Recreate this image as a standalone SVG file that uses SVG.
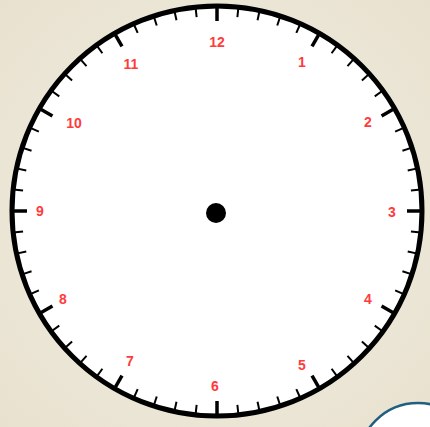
<svg xmlns="http://www.w3.org/2000/svg" xmlns:xlink="http://www.w3.org/1999/xlink" width="430" height="427" viewBox="0 0 430 427">
<defs>
<style>
.num{font-family:"Liberation Sans",Arial,sans-serif;font-weight:bold;font-size:14px;fill:#ff3b3b;text-anchor:middle;dominant-baseline:central}
.h{stroke:#000;stroke-width:3.5}
.m{stroke:#000;stroke-width:2}
</style>
<radialGradient id="bg" cx="50%" cy="50%" r="70%">
<stop offset="0" stop-color="#f3efe5"/>
<stop offset="1" stop-color="#e8e1cf"/>
</radialGradient>
<line id="ht" class="h" x1="217" y1="6" x2="217" y2="21"/>
<line id="mt" class="m" x1="217" y1="6" x2="217" y2="16"/>
</defs>
<rect width="430" height="427" fill="url(#bg)"/>
<g id="face">
<circle cx="217" cy="211" r="205" fill="#fff" stroke="#000" stroke-width="5"/>
</g>
<g id="ticks">
<use href="#ht" transform="rotate(0 217 211)"/>
<use href="#mt" transform="rotate(6 217 211)"/>
<use href="#mt" transform="rotate(12 217 211)"/>
<use href="#mt" transform="rotate(18 217 211)"/>
<use href="#mt" transform="rotate(24 217 211)"/>
<use href="#ht" transform="rotate(30 217 211)"/>
<use href="#mt" transform="rotate(36 217 211)"/>
<use href="#mt" transform="rotate(42 217 211)"/>
<use href="#mt" transform="rotate(48 217 211)"/>
<use href="#mt" transform="rotate(54 217 211)"/>
<use href="#ht" transform="rotate(60 217 211)"/>
<use href="#mt" transform="rotate(66 217 211)"/>
<use href="#mt" transform="rotate(72 217 211)"/>
<use href="#mt" transform="rotate(78 217 211)"/>
<use href="#mt" transform="rotate(84 217 211)"/>
<use href="#ht" transform="rotate(90 217 211)"/>
<use href="#mt" transform="rotate(96 217 211)"/>
<use href="#mt" transform="rotate(102 217 211)"/>
<use href="#mt" transform="rotate(108 217 211)"/>
<use href="#mt" transform="rotate(114 217 211)"/>
<use href="#ht" transform="rotate(120 217 211)"/>
<use href="#mt" transform="rotate(126 217 211)"/>
<use href="#mt" transform="rotate(132 217 211)"/>
<use href="#mt" transform="rotate(138 217 211)"/>
<use href="#mt" transform="rotate(144 217 211)"/>
<use href="#ht" transform="rotate(150 217 211)"/>
<use href="#mt" transform="rotate(156 217 211)"/>
<use href="#mt" transform="rotate(162 217 211)"/>
<use href="#mt" transform="rotate(168 217 211)"/>
<use href="#mt" transform="rotate(174 217 211)"/>
<use href="#ht" transform="rotate(180 217 211)"/>
<use href="#mt" transform="rotate(186 217 211)"/>
<use href="#mt" transform="rotate(192 217 211)"/>
<use href="#mt" transform="rotate(198 217 211)"/>
<use href="#mt" transform="rotate(204 217 211)"/>
<use href="#ht" transform="rotate(210 217 211)"/>
<use href="#mt" transform="rotate(216 217 211)"/>
<use href="#mt" transform="rotate(222 217 211)"/>
<use href="#mt" transform="rotate(228 217 211)"/>
<use href="#mt" transform="rotate(234 217 211)"/>
<use href="#ht" transform="rotate(240 217 211)"/>
<use href="#mt" transform="rotate(246 217 211)"/>
<use href="#mt" transform="rotate(252 217 211)"/>
<use href="#mt" transform="rotate(258 217 211)"/>
<use href="#mt" transform="rotate(264 217 211)"/>
<use href="#ht" transform="rotate(270 217 211)"/>
<use href="#mt" transform="rotate(276 217 211)"/>
<use href="#mt" transform="rotate(282 217 211)"/>
<use href="#mt" transform="rotate(288 217 211)"/>
<use href="#mt" transform="rotate(294 217 211)"/>
<use href="#ht" transform="rotate(300 217 211)"/>
<use href="#mt" transform="rotate(306 217 211)"/>
<use href="#mt" transform="rotate(312 217 211)"/>
<use href="#mt" transform="rotate(318 217 211)"/>
<use href="#mt" transform="rotate(324 217 211)"/>
<use href="#ht" transform="rotate(330 217 211)"/>
<use href="#mt" transform="rotate(336 217 211)"/>
<use href="#mt" transform="rotate(342 217 211)"/>
<use href="#mt" transform="rotate(348 217 211)"/>
<use href="#mt" transform="rotate(354 217 211)"/>
</g>
<g id="numbers">
<text class="num" x="217" y="42">12</text>
<text class="num" x="302" y="62">1</text>
<text class="num" x="368" y="122">2</text>
<text class="num" x="392" y="212">3</text>
<text class="num" x="368" y="299">4</text>
<text class="num" x="302" y="365">5</text>
<text class="num" x="215" y="386">6</text>
<text class="num" x="130" y="361">7</text>
<text class="num" x="63" y="299">8</text>
<text class="num" x="40" y="211">9</text>
<text class="num" x="74" y="123">10</text>
<text class="num" x="131" y="64">11</text>
</g>
<g id="center">
<circle cx="216" cy="213" r="10" fill="#000"/>
</g>
<g id="corner-button">
<circle cx="418" cy="463" r="60" fill="#fff" stroke="#1f5f7f" stroke-width="2.5"/>
</g>
</svg>
